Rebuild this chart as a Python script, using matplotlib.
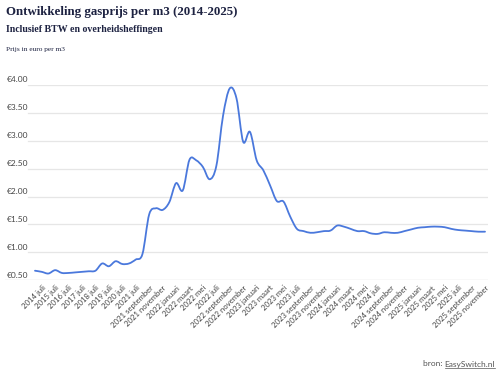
import matplotlib
matplotlib.use("Agg")
import matplotlib.pyplot as plt
import matplotlib.transforms as mtransforms
from matplotlib.path import Path
from matplotlib.patches import PathPatch
import numpy as np

# Periodes (halfjaarlijks tot 2021 juli, daarna maandelijks)
perioden = [
    "2014 januari", "2014 juli", "2015 januari", "2015 juli", "2016 januari", "2016 juli",
    "2017 januari", "2017 juli", "2018 januari", "2018 juli", "2019 januari", "2019 juli",
    "2020 januari", "2020 juli", "2021 januari", "2021 juli",
    "2021 augustus", "2021 september", "2021 oktober", "2021 november", "2021 december",
    "2022 januari", "2022 februari", "2022 maart", "2022 april", "2022 mei", "2022 juni",
    "2022 juli", "2022 augustus", "2022 september", "2022 oktober", "2022 november", "2022 december",
    "2023 januari", "2023 februari", "2023 maart", "2023 april", "2023 mei", "2023 juni",
    "2023 juli", "2023 augustus", "2023 september", "2023 oktober", "2023 november", "2023 december",
    "2024 januari", "2024 februari", "2024 maart", "2024 april", "2024 mei", "2024 juni",
    "2024 juli", "2024 augustus", "2024 september", "2024 oktober", "2024 november", "2024 december",
    "2025 januari", "2025 februari", "2025 maart", "2025 april", "2025 mei", "2025 juni",
    "2025 juli", "2025 augustus", "2025 september", "2025 oktober", "2025 november",
]

# Gasprijs in euro per m3
prijzen = [
    0.67, 0.65, 0.62, 0.68, 0.63, 0.63,
    0.64, 0.65, 0.66, 0.67, 0.80, 0.75,
    0.84, 0.79, 0.80, 0.87,
    0.97, 1.68, 1.79, 1.76, 1.90,
    2.24, 2.11, 2.66, 2.65, 2.53, 2.31,
    2.55, 3.45, 3.94, 3.76, 2.98, 3.16,
    2.65, 2.47, 2.20, 1.92, 1.91, 1.64,
    1.42, 1.38, 1.35, 1.36, 1.38, 1.39,
    1.48, 1.46, 1.42, 1.38, 1.38, 1.34,
    1.33, 1.36, 1.35, 1.35, 1.38, 1.41,
    1.44, 1.45, 1.46, 1.46, 1.45, 1.42,
    1.40, 1.39, 1.38, 1.37, 1.37,
]

y_ticks = [0.5, 1.0, 1.5, 2.0, 2.5, 3.0, 3.5, 4.0]

W, H = 500, 372
fig = plt.figure(figsize=(W / 100, H / 100), dpi=100)
fig.patch.set_facecolor("white")

# assen in pixels
links, rechts, onder, boven = 5, 488, 280.2, 85
ax = fig.add_axes([links / W, 1 - onder / H, (rechts - links) / W, (onder - boven) / H])
for s in ax.spines.values():
    s.set_visible(False)
ax.set_facecolor("none")

n = len(prijzen)
x = np.arange(n)
stap = (485 - 35) / (n - 1)
ax.set_xlim(-(35 - links) / stap, (n - 1) + (rechts - 485) / stap)
ax.set_ylim(0.5, 4.0)

# gladde lijn (cardinal spline als bezier-path)
y = np.array(prijzen)
verts = [(x[0], y[0])]
codes = [Path.MOVETO]
for i in range(n - 1):
    p0 = (x[max(i - 1, 0)], y[max(i - 1, 0)])
    p1 = (x[i], y[i])
    p2 = (x[i + 1], y[i + 1])
    p3 = (x[min(i + 2, n - 1)], y[min(i + 2, n - 1)])
    c1 = (p1[0] + (p2[0] - p0[0]) / 6, p1[1] + (p2[1] - p0[1]) / 6)
    c2 = (p2[0] - (p3[0] - p1[0]) / 6, p2[1] - (p3[1] - p1[1]) / 6)
    verts += [c1, c2, p2]
    codes += [Path.CURVE4] * 3
ax.add_patch(PathPatch(Path(verts, codes), facecolor="none", edgecolor="#4a78dc",
                       linewidth=1.3, zorder=3, capstyle="round", joinstyle="round"))

# rasterlijnen en labels
trans = mtransforms.blended_transform_factory(ax.transAxes, ax.transData)
start_grid = (28 - links) / (rechts - links)
for v in y_ticks:
    if v == 0.5:
        ax.plot([0, 1], [v, v], transform=trans, color="#cccccc", lw=0.9, zorder=1)
    else:
        ax.plot([start_grid, 1], [v, v], transform=trans, color="#e6e6e6", lw=0.9, zorder=1)
    ax.text((7 - links) / (rechts - links), v + 0.03, f"€{v:.2f}", transform=trans,
            ha="left", va="bottom", fontsize=6, family="Lato", color="#444444")

# x labels: elke tweede periode
tick_pos = x[1::2]
ax.set_xticks(tick_pos)
ax.set_xticklabels([perioden[i] for i in tick_pos], rotation=45, ha="right",
                   rotation_mode="anchor", fontsize=5.6, family="Lato", color="#444444")
ax.tick_params(axis="x", length=0, pad=3)
ax.set_yticks([])

# titels
fig.text(6 / W, 1 - 12 / H, "Ontwikkeling gasprijs per m3 (2014-2025)", ha="left", va="center",
         fontsize=9.3, family="Liberation Serif", fontweight="bold", color="#1d2241")
fig.text(6 / W, 1 - 29 / H, "Inclusief BTW en overheidsheffingen", ha="left", va="center",
         fontsize=7.1, family="Liberation Serif", fontweight="bold", color="#1d2241")
fig.text(6 / W, 1 - 49 / H, "Prijs in euro per m3", ha="left", va="center",
         fontsize=5.3, family="Liberation Serif", color="#1d2241")

# bron, met onderstreepte link
link = fig.text(495 / W, 1 - 364 / H, "EasySwitch.nl", ha="right", va="center",
                fontsize=6, family="Lato", color="#555555")
fig.canvas.draw()
bb = link.get_window_extent()
fig.text(bb.x0 / W, 1 - 364 / H, "bron: ", ha="right", va="center",
         fontsize=6, family="Lato", color="#555555")
fig.lines.append(plt.Line2D([bb.x0 / W, bb.x1 / W], [(bb.y0 - 0.5) / H, (bb.y0 - 0.5) / H],
                            transform=fig.transFigure, color="#555555", lw=0.5))

fig.savefig("out.png", dpi=100, facecolor="white")
